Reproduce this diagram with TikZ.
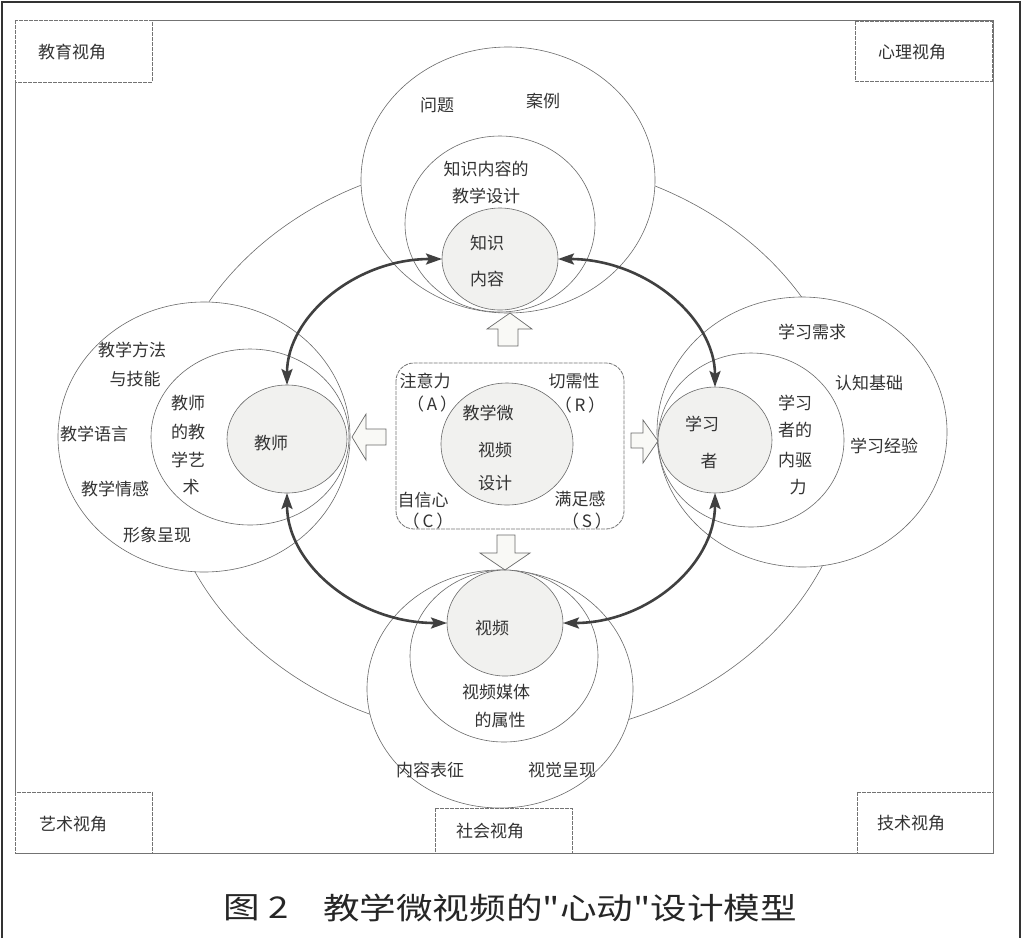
\documentclass[tikz,border=0pt]{standalone}
\usepackage{fontspec}
\newfontfamily\cjkfont{Noto Sans CJK SC}
\usetikzlibrary{shapes.geometric,arrows.meta}
\definecolor{ink}{HTML}{333333}
\definecolor{lineg}{HTML}{6A6A6A}
\definecolor{coreg}{HTML}{F1F1EF}
\definecolor{arrowf}{HTML}{F9F9F6}
\definecolor{linkc}{HTML}{404040}
\begin{document}
\begin{tikzpicture}[x=1pt,y=-1pt,
  lbl/.style={font=\cjkfont\fontsize{17}{20}\selectfont, text=ink, inner sep=0pt},
  captext/.style={font=\cjkfont\fontsize{30}{34}\selectfont, text=black!85, inner sep=0pt, xscale=1.22},
  ring/.style={draw=lineg, line width=0.6pt},
  ringw/.style={draw=lineg, line width=0.6pt, fill=white},
  core/.style={ellipse, draw=lineg, line width=0.6pt, fill=coreg, inner sep=0pt, outer sep=0pt},
  frame/.style={draw=black!55, line width=0.8pt},
  boxl/.style={draw=black!55, line width=0.8pt, dash pattern=on 4pt off 1pt, fill=white},
  blockarrow/.style={draw=lineg, line width=0.7pt, fill=arrowf, line join=miter},
  link/.style={draw=linkc, line width=2.6pt,
    {Stealth[length=16pt,width=11pt,inset=3pt]}-{Stealth[length=16pt,width=11pt,inset=3pt]}}
]
\useasboundingbox (0,0) rectangle (1022,938);
% outer border
\draw[line width=2pt, draw=black!80] (1.5,938) -- (1.5,1.5) -- (1019.5,1.5) -- (1019.5,938);
% inner frame
\draw[frame] (15,20) rectangle (993,853);
% corner boxes
\draw[boxl] (15,20) rectangle (152,82);
\node[lbl] (tedu) at (72,52) {教育视角};
\draw[boxl] (855,21) rectangle (992,81);
\node[lbl] (tpsy) at (912,52) {心理视角};
\draw[boxl] (15,792) rectangle (152,853);
\node[lbl] (tart) at (73,824) {艺术视角};
\draw[boxl] (435,808) rectangle (572,853);
\node[lbl] (tsoc) at (490,831) {社会视角};
\draw[boxl] (857,792) rectangle (993,853);
\node[lbl] (ttec) at (911,823) {技术视角};

% big background ellipse
\draw[ring] (507,448) ellipse [x radius=345pt, y radius=290pt];

% top group
\draw[ringw] (508,180) ellipse [x radius=147pt, y radius=133pt];
\draw[ringw] (500,224) ellipse [x radius=95pt, y radius=88pt];
\node[core, minimum width=116pt, minimum height=102pt] (zs) at (500,259) {};
% left group
\draw[ringw] (204,437) ellipse [x radius=146pt, y radius=135pt];
\draw[ringw] (250,437) ellipse [x radius=99pt, y radius=88pt];
\node[core, minimum width=120pt, minimum height=108pt] (js) at (287,439) {};
% right group
\draw[ringw] (802,432) ellipse [x radius=145pt, y radius=135pt];
\draw[ringw] (751,440) ellipse [x radius=93pt, y radius=87pt];
\node[core, minimum width=114pt, minimum height=106pt] (xx) at (715,440) {};
% bottom group
\draw[ringw] (500,689) ellipse [x radius=133pt, y radius=119pt];
\draw[ringw] (504,656) ellipse [x radius=94pt, y radius=86pt];
\node[core, minimum width=116pt, minimum height=106pt] (sp) at (505,623) {};

% centre rounded box
\draw[frame, dash pattern=on 4pt off 1pt, rounded corners=18pt] (396,363) rectangle (624,529);
\node[core, minimum width=132pt, minimum height=122pt] (mv) at (507,444) {};

% block arrows
\draw[blockarrow] (498,346) -- (498,329) -- (487,329) -- (510,313) -- (532,329) -- (518,329) -- (518,346) -- cycle;
\draw[blockarrow] (386,429) -- (366,429) -- (366,414) -- (352,437) -- (366,460) -- (366,445) -- (386,445) -- cycle;
\draw[blockarrow] (631,433) -- (643,433) -- (643,420) -- (658,441) -- (643,463) -- (643,448) -- (631,448) -- cycle;
\draw[blockarrow] (497,535) -- (515,535) -- (515,553) -- (530,553) -- (505,570) -- (480,553) -- (497,553) -- cycle;

% curved double arrows
\draw[link] (zs.west) .. controls +(-87,0) and +(0,-68) .. (js.north);
\draw[link] (zs.east) .. controls +(87,0) and +(0,-69) .. (xx.north);
\draw[link] (js.south) .. controls +(0,72) and +(-89,0) .. (sp.west);
\draw[link] (xx.south) .. controls +(0,72) and +(84,0) .. (sp.east);

% top group texts
\node[lbl] (t1) at (437,105) {问题};
\node[lbl] (t2) at (543,101) {案例};
\node[lbl] (t3) at (486,169) {知识内容的};
\node[lbl] (t4) at (486,196) {教学设计};
\node[lbl] (t5) at (487,243) {知识};
\node[lbl] (t6) at (487,279) {内容};
% left group texts
\node[lbl] (l1) at (132,350) {教学方法};
\node[lbl] (l2) at (135,379) {与技能};
\node[lbl] (l3) at (94,434) {教学语言};
\node[lbl] (l4) at (115,489) {教学情感};
\node[lbl] (l5) at (157,535) {形象呈现};
\node[lbl] (l6) at (188,403) {教师};
\node[lbl] (l7) at (188,432) {的教};
\node[lbl] (l8) at (188,460) {学艺};
\node[lbl] (l9) at (191,487) {术};
\node[lbl] (l10) at (271,443) {教师};
% right group texts
\node[lbl] (r1) at (812,332) {学习需求};
\node[lbl] (r2) at (869,383) {认知基础};
\node[lbl] (r3) at (884,446) {学习经验};
\node[lbl] (r4) at (795,403) {学习};
\node[lbl] (r5) at (795,430) {者的};
\node[lbl] (r6) at (795,460) {内驱};
\node[lbl] (r7) at (798,487) {力};
\node[lbl] (r8) at (702,424) {学习};
\node[lbl] (r9) at (709,461) {者};
% centre texts
\node[lbl] (c1) at (425,381) {注意力};
\node[lbl] (c2) at (432,404) {（\,A\,）};
\node[lbl] (c3) at (574,381) {切需性};
\node[lbl] (c4) at (580,405) {（\,R\,）};
\node[lbl] (c5) at (488,413) {教学微};
\node[lbl] (c6) at (495,450) {视频};
\node[lbl] (c7) at (495,483) {设计};
\node[lbl] (c8) at (423,500) {自信心};
\node[lbl] (c9) at (428,521) {（\,C\,）};
\node[lbl] (c10) at (580,499) {满足感};
\node[lbl] (c11) at (587,521) {（\,S\,）};
% bottom texts
\node[lbl] (b1) at (492,628) {视频};
\node[lbl] (b2) at (496,692) {视频媒体};
\node[lbl] (b3) at (500,720) {的属性};
\node[lbl] (b4) at (430,770) {内容表征};
\node[lbl] (b5) at (562,770) {视觉呈现};

% caption
\node[captext] (cap1) at (256,908) {图 2};
\node[captext] (cap2) at (560,908) {教学微视频的"心动"设计模型};
\end{tikzpicture}
\end{document}
